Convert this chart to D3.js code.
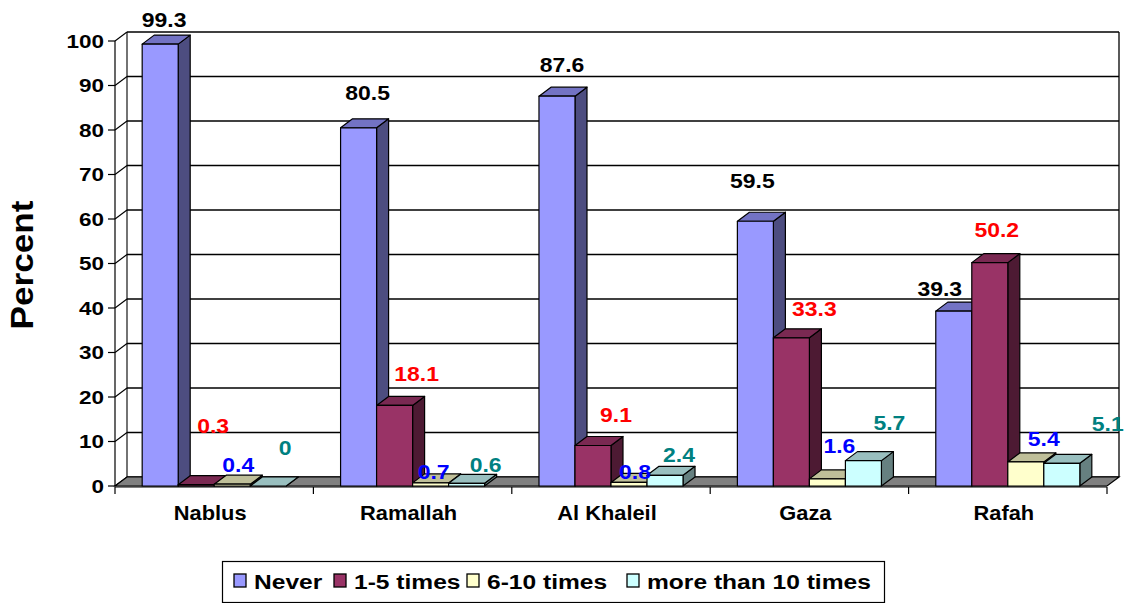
<!DOCTYPE html>
<html>
<head>
<meta charset="utf-8">
<script src="https://cdn.jsdelivr.net/npm/d3@7"></script>
<style>
  html, body { margin: 0; padding: 0; background: #fff; }
  svg { display: block; }
  text { font-family: "Liberation Sans", Arial, sans-serif; font-weight: bold; }
</style>
</head>
<body>
<svg id="chart" width="1125" height="603"></svg>
<script>
// Survey results by city (percent)
const categories = ["Nablus", "Ramallah", "Al Khaleil", "Gaza", "Rafah"];
const seriesNames = ["Never", "1-5 times", "6-10 times", "more than 10 times"];
const never      = [99.3, 80.5, 87.6, 59.5, 39.3];
const times1to5  = [0.3, 18.1, 9.1, 33.3, 50.2];
const times6to10 = [0.4, 0.7, 0.8, 1.6, 5.4];
const over10     = [0, 0.6, 2.4, 5.7, 5.1];
const yTicks = [0, 10, 20, 30, 40, 50, 60, 70, 80, 90, 100];

const seriesValues = [never, times1to5, times6to10, over10];

// Face colours for each series: front, top, side
const palette = [
  { front: "#9999ff", top: "#7373c4", side: "#4d4d80", label: "#000000" },
  { front: "#993366", top: "#7a2952", side: "#4d1a33", label: "#ff0000" },
  { front: "#ffffcc", top: "#bfbf99", side: "#808066", label: "#0000ff" },
  { front: "#ccffff", top: "#99bfbf", side: "#668080", label: "#008080" }
];

// Hand-placed data label offsets (dx, dy from the front-top of each column)
const labelNudge = [
  [[4, -17], [9, -28], [5, -24], [-3, -33], [-14, -15]],
  [[17, -52], [22, -24], [23, -24], [23, -22], [7, -26]],
  [[6, -12], [3, -4], [6, -3], [12, -26], [18, -16]],
  [[17, -31], [19, -11], [14, -13], [26, -31], [46, -32]]
];

const svg = d3.select("#chart");

// 3D projection depth
const DX = 12, DY = -9;

const x = d3.scaleBand().domain(categories).range([115, 1107]);
const y = d3.scaleLinear().domain([0, 100]).range([486, 41]);
const bw = x.bandwidth();
const groupW = bw * 0.726;
const inner = d3.scaleBand().domain(d3.range(seriesNames.length)).range([(bw - groupW) / 2, (bw + groupW) / 2]);
const barW = inner.bandwidth();

const y0 = y(0);
const left = x.range()[0], right = x.range()[1];

// Back wall gridlines and side-wall diagonals
const grid = svg.append("g");
grid.selectAll("line.g").data(yTicks).join("line")
  .attr("x1", left + DX).attr("x2", right + DX)
  .attr("y1", d => y(d) + DY).attr("y2", d => y(d) + DY)
  .attr("stroke", "#000").attr("stroke-width", 1.3);
grid.selectAll("line.d").data(yTicks).join("line")
  .attr("x1", left).attr("x2", left + DX)
  .attr("y1", d => y(d)).attr("y2", d => y(d) + DY)
  .attr("stroke", "#000").attr("stroke-width", 1.1);
// back wall verticals
grid.append("line").attr("x1", left + DX).attr("x2", left + DX)
  .attr("y1", y(100) + DY).attr("y2", y0 + DY).attr("stroke", "#000").attr("stroke-width", 1.1);
grid.append("line").attr("x1", right + DX).attr("x2", right + DX)
  .attr("y1", y(100) + DY).attr("y2", y0 + DY).attr("stroke", "#000").attr("stroke-width", 1.3);

// Floor
svg.append("path")
  .attr("d", d3.line()([[left, y0], [right, y0], [right + DX, y0 + DY], [left + DX, y0 + DY]]) + "Z")
  .attr("fill", "#808080").attr("stroke", "#000").attr("stroke-width", 1.2);

// Value axis
const axisG = svg.append("g");
axisG.append("line").attr("x1", left).attr("x2", left)
  .attr("y1", y(100)).attr("y2", y0).attr("stroke", "#000").attr("stroke-width", 1.2);
axisG.selectAll("line.t").data(yTicks).join("line")
  .attr("x1", left - 7).attr("x2", left)
  .attr("y1", d => y(d)).attr("y2", d => y(d))
  .attr("stroke", "#000").attr("stroke-width", 1.2);
axisG.selectAll("text").data(yTicks).join("text")
  .attr("transform", d => `translate(${left - 11},${y(d) + 6.5}) scale(1.25,1)`)
  .attr("text-anchor", "end").attr("font-size", 18).attr("fill", "#000")
  .text(d => d);

// Category axis
const catG = svg.append("g");
catG.append("line").attr("x1", left).attr("x2", right)
  .attr("y1", y0 + 1).attr("y2", y0 + 1).attr("stroke", "#000").attr("stroke-width", 1.2);
catG.selectAll("line.t").data(d3.range(categories.length + 1)).join("line")
  .attr("x1", i => left + i * bw).attr("x2", i => left + i * bw)
  .attr("y1", y0 + 1).attr("y2", y0 + 8).attr("stroke", "#000").attr("stroke-width", 1.2);
catG.selectAll("text").data(categories).join("text")
  .attr("transform", d => `translate(${x(d) + bw / 2 - 4},${520}) scale(1.12,1)`)
  .attr("text-anchor", "middle").attr("font-size", 19.5).attr("fill", "#000")
  .text(d => d);

// Columns, drawn left to right so neighbours hide hidden side faces
const bars = [];
categories.forEach((c, ci) => {
  seriesValues.forEach((vals, si) => {
    bars.push({ c, ci, si, v: vals[ci] });
  });
});

const barG = svg.append("g");
bars.forEach(b => {
  const x0 = x(b.c) + inner(b.si);
  const x1 = x0 + barW;
  const yt = y(b.v);
  const col = palette[b.si];
  const g = barG.append("g").attr("stroke", "#000").attr("stroke-width", 1.2).attr("stroke-linejoin", "round");
  g.append("path")
    .attr("d", d3.line()([[x1, yt], [x1 + DX, yt + DY], [x1 + DX, y0 + DY], [x1, y0]]) + "Z")
    .attr("fill", col.side);
  g.append("path")
    .attr("d", d3.line()([[x0, yt], [x1, yt], [x1 + DX, yt + DY], [x0 + DX, yt + DY]]) + "Z")
    .attr("fill", col.top);
  g.append("rect")
    .attr("x", x0).attr("y", yt).attr("width", barW).attr("height", y0 - yt)
    .attr("fill", col.front);
});

// Data labels
const labG = svg.append("g");
bars.forEach(b => {
  const cx = x(b.c) + inner(b.si) + barW / 2;
  const n = labelNudge[b.si][b.ci];
  labG.append("text")
    .attr("transform", `translate(${cx + n[0]},${y(b.v) + n[1]}) scale(1.12,1)`)
    .attr("text-anchor", "middle").attr("font-size", 20.5)
    .attr("fill", palette[b.si].label)
    .text(b.v);
});

// Axis title
svg.append("text")
  .attr("transform", "translate(33,265) rotate(-90) scale(1.1,1)")
  .attr("text-anchor", "middle").attr("font-size", 32).attr("fill", "#000")
  .text("Percent");

// Legend
const legend = svg.append("g");
legend.append("rect").attr("x", 222.5).attr("y", 561.5).attr("width", 662).attr("height", 41)
  .attr("fill", "#fff").attr("stroke", "#000").attr("stroke-width", 1.2);
const legendX = [234, 334, 467, 627];
seriesNames.forEach((name, i) => {
  legend.append("rect").attr("x", legendX[i]).attr("y", 574).attr("width", 12).attr("height", 13)
    .attr("fill", palette[i].front).attr("stroke", "#000").attr("stroke-width", 1.3);
  legend.append("text")
    .attr("transform", `translate(${legendX[i] + 20},589) scale(1.17,1)`)
    .attr("font-size", 21).attr("fill", "#000").text(name);
});
</script>
</body>
</html>
